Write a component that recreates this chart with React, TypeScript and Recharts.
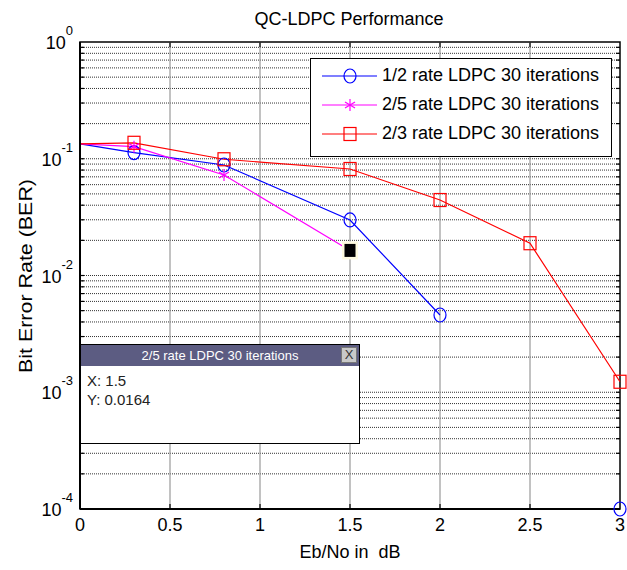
import React from 'react';
import { LineChart, Line, XAxis, YAxis, ReferenceLine, ReferenceArea, Legend, Label } from 'recharts';

const ebNo = [0, 0.3, 0.8, 1.5, 2, 2.5, 3];
const berHalf = [0.134, 0.113, 0.0884, 0.0299, 0.00459, null, 0.0001];
const berTwoFifths = [0.134, 0.127, 0.0726, 0.0164, null, null, null];
const berTwoThirds = [0.134, 0.137, 0.099, 0.0817, 0.0443, 0.0189, 0.00123];

const seriesNames = ['1/2 rate LDPC 30 iterations', '2/5 rate LDPC 30 iterations', '2/3 rate LDPC 30 iterations'];
const seriesColors = ['#0000ff', '#ff00ff', '#ff0000'];

const xTicks = [0, 0.5, 1, 1.5, 2, 2.5, 3];
const xGrid = [0.5, 1, 1.5, 2, 2.5];
const yTicks = [1e-4, 1e-3, 1e-2, 1e-1, 1];
const decades = [1e-4, 1e-3, 1e-2, 1e-1];
const mantissas = [1, 2, 3, 4, 5, 6, 7, 8, 9];
const yGrid = decades.flatMap((d) => mantissas.map((m) => m * d)).filter((v) => v > 1e-4);

const tipX = 1.5;
const tipY = 0.0164;
const tipSeries = 1;

const FONT = '"Liberation Sans", Arial, sans-serif';

const data = ebNo.map((x, i) => ({
  x,
  half: berHalf[i],
  twoFifths: berTwoFifths[i],
  twoThirds: berTwoThirds[i],
}));

const CircleMark = ({ cx, cy, color }: any) => (
  <ellipse cx={cx} cy={cy} rx={6} ry={7} fill="none" stroke={color} strokeWidth={1.2} />
);
const SquareMark = ({ cx, cy, color }: any) => (
  <rect x={cx - 6} y={cy - 6.5} width={12} height={13} fill="none" stroke={color} strokeWidth={1.2} />
);
const StarMark = ({ cx, cy, color }: any) => (
  <g stroke={color} strokeWidth={1.2}>
    <line x1={cx} y1={cy - 6} x2={cx} y2={cy + 6} />
    <line x1={cx - 5} y1={cy - 3} x2={cx + 5} y2={cy + 3} />
    <line x1={cx - 5} y1={cy + 3} x2={cx + 5} y2={cy - 3} />
  </g>
);
const markers = [CircleMark, StarMark, SquareMark];

const TipMark = ({ cx, cy }: any) => (
  <g>
    <rect x={cx - 8} y={cy - 9} width={16} height={18} fill="#fffbe0" />
    <rect x={cx - 5.5} y={cy - 6.5} width={11} height={13} fill="#000" />
  </g>
);

const makeDot = (seriesIndex: number) => (props: any) => {
  const { cx, cy, index, value, payload } = props;
  if (index === 0 || value == null || cy == null || isNaN(cy)) return <g key={`d${index}`} />;
  if (seriesIndex === tipSeries && payload && payload.x === tipX) {
    return <TipMark key={`d${index}`} cx={cx} cy={cy} />;
  }
  const Mark = markers[seriesIndex];
  return <Mark key={`d${index}`} cx={cx} cy={cy} color={seriesColors[seriesIndex]} />;
};

const XTick = ({ x, y, payload }: any) => (
  <text x={x} y={y + 22} textAnchor="middle" fontSize={18} fontFamily={FONT} fill="#000">
    {payload.value}
  </text>
);

const YTick = ({ x, y, payload }: any) => {
  const exp = Math.round(Math.log10(payload.value));
  return (
    <text x={x - 7} y={y + 7} textAnchor="end" fontSize={18} fontFamily={FONT} fill="#000">
      <tspan>10</tspan>
      <tspan dy={-14} fontSize={13}>{exp}</tspan>
    </text>
  );
};

const GridH = (props: any) => {
  const { x1, y1, x2, y2 } = props;
  return (
    <g>
      <line x1={x1} y1={y1} x2={x2} y2={y2} stroke="#333" strokeWidth={1} strokeDasharray="1 1" />
      <line x1={x1} y1={y1} x2={x1 + 4} y2={y1} stroke="#000" strokeWidth={1.2} />
      <line x1={x2 - 4} y1={y2} x2={x2} y2={y2} stroke="#000" strokeWidth={1.2} />
    </g>
  );
};

const GridV = (props: any) => {
  const { x1, y1, x2, y2 } = props;
  const top = Math.min(y1, y2);
  const bot = Math.max(y1, y2);
  return (
    <g>
      <line x1={x1} y1={y1} x2={x2} y2={y2} stroke="#999" strokeWidth={1.2} />
      <line x1={x1} y1={bot - 5} x2={x1} y2={bot} stroke="#000" strokeWidth={1.2} />
      <line x1={x1} y1={top} x2={x1} y2={top + 5} stroke="#000" strokeWidth={1.2} />
    </g>
  );
};

const LegendBox = () => (
  <div
    style={{
      width: 302,
      height: 99,
      border: '1.5px solid #000',
      background: '#fff',
      boxSizing: 'border-box',
      fontFamily: FONT,
      fontSize: 18,
      color: '#000',
      paddingTop: 2,
    }}
  >
    {seriesNames.map((name, i) => {
      const Mark = markers[i];
      return (
        <div key={name} style={{ display: 'flex', alignItems: 'center', height: 29, whiteSpace: 'nowrap' }}>
          <svg width={70} height={24} style={{ flex: 'none' }}>
            <line x1={11} y1={12} x2={66} y2={12} stroke={seriesColors[i]} strokeWidth={1.2} />
            <Mark cx={39} cy={12} color={seriesColors[i]} />
          </svg>
          <span style={{ marginLeft: 1 }}>{name}</span>
        </div>
      );
    })}
  </div>
);

const DataTip = () => (
  <div
    style={{
      position: 'absolute',
      left: 80,
      top: 344,
      width: 280,
      height: 100,
      border: '1.5px solid #000',
      background: '#fff',
      boxSizing: 'border-box',
      fontFamily: FONT,
    }}
  >
    <div
      style={{
        height: 21,
        background: '#5c5c82',
        color: '#fff',
        fontSize: 13,
        lineHeight: '21px',
        textAlign: 'center',
        position: 'relative',
        paddingRight: 0,
        overflow: 'hidden',
      }}
    >
      {seriesNames[tipSeries]}
      <div
        style={{
          position: 'absolute',
          right: 2,
          top: 2,
          width: 16,
          height: 16,
          background: '#c8c8c8',
          border: '1px solid #777',
          boxSizing: 'border-box',
          color: '#333',
          fontSize: 13,
          lineHeight: '14px',
          textAlign: 'center',
        }}
      >
        X
      </div>
    </div>
    <div style={{ fontSize: 15, lineHeight: '19px', padding: '5px 0 0 6px', color: '#222' }}>
      <div>X: {tipX}</div>
      <div>Y: {tipY}</div>
    </div>
  </div>
);

export default function App() {
  const keys = ['half', 'twoFifths', 'twoThirds'];
  return (
    <div style={{ position: 'absolute', left: 0, top: 0, width: 627, height: 570, background: '#fff' }}>
      <LineChart width={627} height={570} data={data} margin={{ top: 42, right: 7, bottom: 0, left: 0 }}>
        <XAxis
          dataKey="x"
          type="number"
          domain={[0, 3]}
          ticks={xTicks}
          tick={<XTick />}
          tickSize={0}
          tickMargin={0}
          tickLine={false}
          axisLine={{ stroke: '#000', strokeWidth: 2 }}
          interval={0}
          height={61}
        >
          <Label
            content={() => (
              <text x={350} y={558} textAnchor="middle" fontSize={18} fontFamily={FONT} fill="#000" style={{ whiteSpace: 'pre' }}>
                Eb/No in  dB
              </text>
            )}
          />
          <Label
            content={() => (
              <text x={349} y={25} textAnchor="middle" fontSize={18} fontFamily={FONT} fill="#000">
                QC-LDPC Performance
              </text>
            )}
          />
        </XAxis>
        <YAxis
          scale="log"
          type="number"
          domain={[1e-4, 1]}
          ticks={yTicks}
          tick={<YTick />}
          tickSize={0}
          tickMargin={0}
          tickLine={false}
          axisLine={{ stroke: '#000', strokeWidth: 2 }}
          interval={0}
          width={80}
        >
          <Label
            content={() => (
              <text
                x={0}
                y={0}
                transform="translate(32 276) rotate(-90)"
                textAnchor="middle"
                fontSize={18}
                fontFamily={FONT}
                fill="#000"
                textLength={194}
                lengthAdjust="spacingAndGlyphs"
              >
                Bit Error Rate (BER)
              </text>
            )}
          />
        </YAxis>
        {yGrid.map((v) => (
          <ReferenceLine key={`h${v}`} y={v} shape={<GridH />} />
        ))}
        {xGrid.map((v) => (
          <ReferenceLine key={`v${v}`} x={v} shape={<GridV />} />
        ))}
        <ReferenceArea x1={0} x2={3} y1={1e-4} y2={1} fill="none" fillOpacity={0} stroke="#000" strokeWidth={1.5} />
        {keys.map((k, i) => (
          <Line
            key={k}
            dataKey={k}
            name={seriesNames[i]}
            stroke={seriesColors[i]}
            strokeWidth={1.2}
            dot={makeDot(i)}
            activeDot={false}
            connectNulls={false}
            isAnimationActive={false}
          />
        ))}
        <Legend
          layout="horizontal"
          verticalAlign="middle"
          align="center"
          content={<LegendBox />}
          wrapperStyle={{ position: 'absolute', left: 310, top: 58, width: 302, height: 99 }}
        />
      </LineChart>
      <DataTip />
    </div>
  );
}
